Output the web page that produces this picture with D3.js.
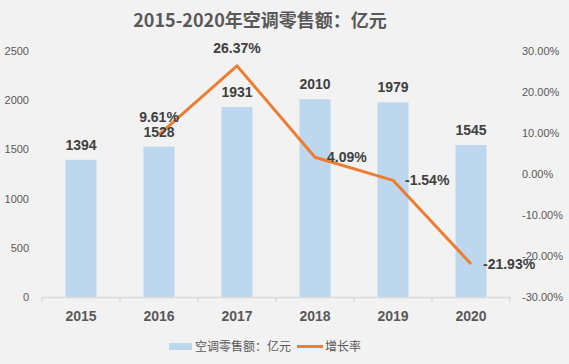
<!DOCTYPE html>
<html>
<head>
<meta charset="utf-8">
<script src="https://cdn.jsdelivr.net/npm/d3@7"></script>
<style>
  html, body { margin: 0; padding: 0; background: #f2f2f2; }
  svg { display: block; font-family: "Liberation Sans", "Noto Sans CJK SC", sans-serif; }
</style>
</head>
<body>
<svg id="chart" width="569" height="364"></svg>
<script>
const years = ["2015", "2016", "2017", "2018", "2019", "2020"];
const sales = [1394, 1528, 1931, 2010, 1979, 1545];
const growth = [null, 9.61, 26.37, 4.09, -1.54, -21.93];
const leftTicks = [0, 500, 1000, 1500, 2000, 2500];
const rightTicks = [-30, -20, -10, 0, 10, 20, 30];

const svg = d3.select("#chart");
const W = 569, H = 364;
const margin = { top: 51, right: 59, bottom: 67, left: 42 };
const width = W - margin.left - margin.right,
  height = H - margin.top - margin.bottom;

svg.append("rect").attr("width", W).attr("height", H).attr("fill", "#f2f2f2");

const g = svg.append("g").attr("transform", "translate(" + margin.left + "," + margin.top + ")");

const xc = d3.scaleBand().domain(years).range([0, width]);
const y = d3.scaleLinear().domain([0, 2500]).range([height, 0]);
const y2 = d3.scaleLinear().domain([-30, 30]).range([height, 0]);

// title
svg.append("text")
  .attr("x", 260).attr("y", 27)
  .attr("text-anchor", "middle")
  .attr("font-family", "'Noto Sans CJK SC', sans-serif")
  .attr("font-size", 18).attr("font-weight", "bold")
  .attr("fill", "#595959")
  .text("2015-2020年空调零售额：亿元");

// bars
g.selectAll(".bar").data(sales).enter().append("rect")
  .attr("class", "bar")
  .attr("x", (d, i) => xc(years[i]) + xc.bandwidth() / 2 - 15.5)
  .attr("width", 31)
  .attr("y", d => y(d))
  .attr("height", d => height - y(d))
  .attr("fill", "#bdd7ee");

// x axis
const xAxis = g.append("g")
  .attr("transform", "translate(0," + height + ")")
  .call(d3.axisBottom(xc).tickSize(0).tickPadding(14));
xAxis.select(".domain").attr("stroke", "#d9d9d9").attr("stroke-width", 1.3);
xAxis.selectAll("text").attr("font-size", 14).attr("font-weight", "bold").attr("fill", "#595959");
// category separators
g.append("g").selectAll("line").data(d3.range(years.length + 1)).enter().append("line")
  .attr("x1", i => i * xc.step()).attr("x2", i => i * xc.step())
  .attr("y1", height).attr("y2", height + 5)
  .attr("stroke", "#d9d9d9").attr("stroke-width", 1.3);

// left axis
const yAxis = g.append("g")
  .call(d3.axisLeft(y).tickValues(leftTicks).tickSize(0).tickPadding(13).tickFormat(d3.format("d")));
yAxis.select(".domain").remove();
yAxis.selectAll("text").attr("font-size", 11).attr("fill", "#595959");

// right axis
const y2Axis = g.append("g")
  .attr("transform", "translate(" + width + ",0)")
  .call(d3.axisRight(y2).tickValues(rightTicks).tickSize(0).tickPadding(12)
    .tickFormat(d => d.toFixed(2) + "%"));
y2Axis.select(".domain").remove();
y2Axis.selectAll("text").attr("font-size", 11).attr("fill", "#595959");

// line
const pts = growth.map((v, i) => ({ v: v, i: i })).filter(d => d.v !== null);
const line = d3.line()
  .x(d => xc(years[d.i]) + xc.bandwidth() / 2)
  .y(d => y2(d.v));
g.append("path").datum(pts)
  .attr("d", line)
  .attr("fill", "none")
  .attr("stroke", "#ed7d31")
  .attr("stroke-width", 3)
  .attr("stroke-linejoin", "round");

// bar labels
g.selectAll(".blabel").data(sales).enter().append("text")
  .attr("x", (d, i) => xc(years[i]) + xc.bandwidth() / 2)
  .attr("y", d => y(d) - 10)
  .attr("text-anchor", "middle")
  .attr("font-size", 14).attr("font-weight", "bold")
  .attr("fill", "#404040")
  .text(d => d);

// line labels: first two above, rest to the right
g.selectAll(".llabel").data(pts).enter().append("text")
  .attr("x", d => xc(years[d.i]) + xc.bandwidth() / 2 + (d.i <= 2 ? 0 : 12))
  .attr("y", d => y2(d.v) + (d.i <= 2 ? -13 : 5))
  .attr("text-anchor", d => d.i <= 2 ? "middle" : "start")
  .attr("font-size", 14).attr("font-weight", "bold")
  .attr("fill", "#404040")
  .text(d => d.v.toFixed(2) + "%");

// legend
const leg = svg.append("g").attr("font-family", "'Noto Sans CJK SC', sans-serif")
  .attr("font-size", 12).attr("fill", "#595959");
leg.append("rect").attr("x", 169).attr("y", 343).attr("width", 23).attr("height", 7).attr("fill", "#bdd7ee");
leg.append("text").attr("x", 195).attr("y", 351).text("空调零售额：亿元");
leg.append("line").attr("x1", 297).attr("x2", 323).attr("y1", 346.5).attr("y2", 346.5)
  .attr("stroke", "#ed7d31").attr("stroke-width", 3);
leg.append("text").attr("x", 325).attr("y", 351).text("增长率");
</script>
</body>
</html>
